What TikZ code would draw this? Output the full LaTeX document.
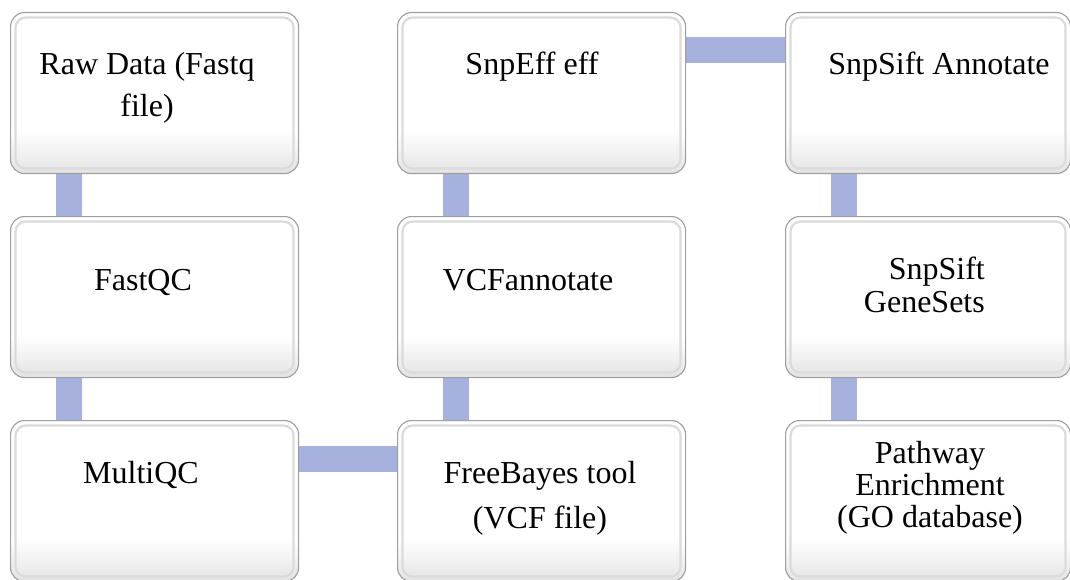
\documentclass[tikz,border=0pt]{standalone}
\usepackage{fontspec}
\setmainfont{Liberation Serif}
\usetikzlibrary{calc,backgrounds}
\definecolor{linkblue}{RGB}{166,178,221}
% soft grey fade along the lower part of every box
\pgfdeclareverticalshading{stepshade}{100bp}{color(0bp)=(black!11); color(25bp)=(black!11); color(38bp)=(white); color(100bp)=(white)}
\tikzset{
  stepbox/.style={anchor=north west, inner sep=0pt, rounded corners=14pt,
    minimum width=288pt, minimum height=161pt,
    draw=black!38, line width=1.1pt, shading=stepshade,
    path picture={\draw[black!14, line width=2.2pt, rounded corners=10pt]
      ([shift={(5pt,-5pt)}]path picture bounding box.north west) rectangle
      ([shift={(-5pt,5pt)}]path picture bounding box.south east);}},
  lbl/.style={anchor=base, inner sep=0pt, font=\fontsize{32}{38}\selectfont},
  lblr/.style={lbl, anchor=base east},
  link/.style={draw=linkblue, line width=26pt, line cap=butt}
}
\begin{document}
\begin{tikzpicture}[x=1pt, y=-1pt]
\useasboundingbox (0,0) rectangle (1070,580);

% process boxes, three columns by three rows
\node[stepbox] (b11) at (10,12) {};
\node[stepbox] (b21) at (10,216) {};
\node[stepbox] (b31) at (10,420) {};
\node[stepbox] (b12) at (397,12) {};
\node[stepbox] (b22) at (397,216) {};
\node[stepbox] (b32) at (397,420) {};
\node[stepbox, minimum width=285pt] (b13) at (785,12) {};
\node[stepbox, minimum width=285pt] (b23) at (785,216) {};
\node[stepbox, minimum width=285pt] (b33) at (785,420) {};

% labels
\node[lbl] (t11a) at ($(b11.north west)+(137,63)$) {Raw Data (Fastq};
\node[lbl] (t11b) at ($(b11.north west)+(137,105)$) {file)};
\node[lbl] (t21) at ($(b21.north west)+(133,74)$) {FastQC};
\node[lbl] (t31) at ($(b31.north west)+(131,63)$) {MultiQC};
\node[lbl] (t12) at ($(b12.north west)+(135,63)$) {SnpEff eff};
\node[lbl] (t22) at ($(b22.north west)+(131,74)$) {VCFannotate};
\node[lbl] (t32a) at ($(b32.north west)+(143,63)$) {FreeBayes tool};
\node[lbl] (t32b) at ($(b32.north west)+(143,108)$) {(VCF file)};
\node[lbl] (t13) at ($(b13.north west)+(154,63)$) {SnpSift Annotate};
\node[lblr] (t23a) at ($(b23.north west)+(200,63)$) {SnpSift};
\node[lblr] (t23b) at ($(b23.north west)+(200,96)$) {GeneSets};
\node[lbl] (t33a) at ($(b33.north west)+(145,43)$) {Pathway};
\node[lbl] (t33b) at ($(b33.north west)+(145,75)$) {Enrichment};
\node[lbl] (t33c) at ($(b33.north west)+(145,107)$) {(GO database)};

% connecting bars behind the boxes
\begin{scope}[on background layer]
\draw[link] ($(b11.south west)+(58.5,0)$) -- ($(b21.north west)+(58.5,0)$);
\draw[link] ($(b21.south west)+(58.5,0)$) -- ($(b31.north west)+(58.5,0)$);
\draw[link] ($(b31.north east)+(0,38.5)$) -- ($(b32.north west)+(0,38.5)$);
\draw[link] ($(b32.north west)+(58.5,0)$) -- ($(b22.south west)+(58.5,0)$);
\draw[link] ($(b22.north west)+(58.5,0)$) -- ($(b12.south west)+(58.5,0)$);
\draw[link] ($(b12.north east)+(0,38.5)$) -- ($(b13.north west)+(0,38.5)$);
\draw[link] ($(b13.south west)+(58.5,0)$) -- ($(b23.north west)+(58.5,0)$);
\draw[link] ($(b23.south west)+(58.5,0)$) -- ($(b33.north west)+(58.5,0)$);
\end{scope}
\end{tikzpicture}
\end{document}
